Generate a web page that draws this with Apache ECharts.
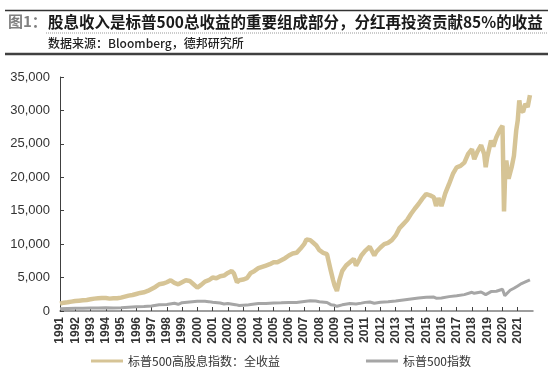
<!DOCTYPE html>
<html>
<head>
<meta charset="utf-8">
<script src="https://cdn.jsdelivr.net/npm/echarts@6/dist/echarts.min.js"></script>
<style>
  html, body { margin: 0; padding: 0; background: #fff; }
  #main { width: 550px; height: 377px; }
</style>
</head>
<body>
<div id="main"></div>
<script>
// 标普500高股息指数：全收益
const divTime = [
  1991.0, 1991.25, 1991.5, 1991.75, 1992.0, 1992.25, 1992.5, 1992.75,
  1993.0, 1993.25, 1993.5, 1993.75, 1994.0, 1994.25, 1994.5, 1994.75,
  1995.0, 1995.25, 1995.5, 1995.75, 1996.0, 1996.25, 1996.5, 1996.75,
  1997.0, 1997.25, 1997.5, 1997.75, 1998.0, 1998.25, 1998.5, 1998.75,
  1999.0, 1999.25, 1999.5, 1999.75, 2000.0, 2000.25, 2000.5, 2000.75,
  2001.0, 2001.25, 2001.5, 2001.75, 2002.0, 2002.25, 2002.4, 2002.6, 2002.75,
  2003.0, 2003.25, 2003.5, 2003.75, 2004.0, 2004.25, 2004.5, 2004.75,
  2005.0, 2005.25, 2005.5, 2005.75, 2006.0, 2006.25, 2006.5, 2006.75,
  2007.0, 2007.15, 2007.4, 2007.6, 2007.8, 2008.0, 2008.25, 2008.5, 2008.75, 2008.9,
  2009.0, 2009.15, 2009.3, 2009.5, 2009.75, 2010.0, 2010.25, 2010.4, 2010.6, 2010.75,
  2011.0, 2011.3, 2011.6, 2011.75, 2012.0, 2012.25, 2012.5, 2012.75,
  2013.0, 2013.25, 2013.5, 2013.75, 2014.0, 2014.25, 2014.5, 2014.75,
  2015.0, 2015.25, 2015.5, 2015.65, 2015.8, 2016.0, 2016.25, 2016.5, 2016.75,
  2017.0, 2017.25, 2017.5, 2017.75, 2018.0, 2018.15, 2018.35, 2018.6, 2018.8, 2018.9,
  2019.0, 2019.25, 2019.4, 2019.6, 2019.85, 2020.0, 2020.1, 2020.18, 2020.25, 2020.4,
  2020.6, 2020.75, 2020.9, 2021.0, 2021.1, 2021.2, 2021.35, 2021.5, 2021.65, 2021.8
]
const divValue = [
  1100, 1250, 1300, 1400, 1500, 1550, 1600, 1650,
  1750, 1850, 1900, 1950, 1950, 1850, 1900, 1900,
  2000, 2150, 2300, 2400, 2550, 2700, 2800, 3000,
  3300, 3600, 4000, 4100, 4300, 4600, 4200, 4000,
  4300, 4600, 4500, 4000, 3500, 3900, 4400, 4600,
  5000, 4900, 5200, 5300, 5700, 6000, 5600, 4300, 4600,
  4700, 4900, 5700, 6000, 6400, 6600, 6800, 7000,
  7300, 7300, 7600, 7900, 8300, 8600, 8700, 9300,
  10000, 10700, 10600, 10200, 9800, 9100, 8700, 8500, 6000, 4600,
  3800, 3000, 4500, 6000, 6800, 7300, 7800, 6800, 7600, 8300,
  9000, 9600, 8300, 8900, 9500, 10000, 10200, 10600,
  11300, 12400, 13000, 13600, 14500, 15300, 16000, 16800,
  17500, 17300, 17000, 15700, 16900, 15700, 17600, 19000, 20500,
  21500, 21700, 22200, 23500, 24200, 22700, 23800, 24800, 23500, 21500,
  23000, 25500, 24600, 26000, 27200, 27700, 14900, 21000, 22500, 19800,
  21500, 23200, 27000, 28500, 31500, 30000, 29800, 31000, 30500, 32300
]

// 标普500指数
const spxTime = [
  1991.0, 1991.5, 1992.0, 1992.5, 1993.0, 1993.5, 1994.0, 1994.5,
  1995.0, 1995.5, 1996.0, 1996.5, 1997.0, 1997.5, 1998.0, 1998.5, 1998.75,
  1999.0, 1999.5, 2000.0, 2000.5, 2000.75, 2001.0, 2001.5, 2001.75,
  2002.0, 2002.5, 2002.75, 2003.0, 2003.25, 2003.5, 2004.0, 2004.5,
  2005.0, 2005.5, 2006.0, 2006.5, 2007.0, 2007.4, 2007.75, 2008.0, 2008.5, 2008.75,
  2009.0, 2009.15, 2009.5, 2010.0, 2010.4, 2010.75, 2011.0, 2011.3, 2011.6,
  2012.0, 2012.5, 2013.0, 2013.5, 2014.0, 2014.5, 2015.0, 2015.5, 2015.65,
  2016.0, 2016.5, 2017.0, 2017.5, 2018.0, 2018.15, 2018.6, 2018.9,
  2019.25, 2019.6, 2020.0, 2020.15, 2020.5, 2020.75, 2021.0, 2021.25, 2021.5, 2021.8
]
const spxValue = [
  330, 380, 410, 420, 440, 450, 470, 450,
  470, 550, 620, 670, 760, 920, 980, 1150, 1000,
  1250, 1350, 1450, 1450, 1400, 1300, 1200, 1050,
  1130, 950, 820, 850, 880, 980, 1130, 1120,
  1190, 1220, 1280, 1280, 1420, 1520, 1500, 1380, 1280, 950,
  850, 700, 920, 1110, 1050, 1180, 1290, 1340, 1150,
  1300, 1380, 1480, 1650, 1800, 1950, 2050, 2080, 1920,
  1950, 2150, 2280, 2450, 2800, 2650, 2850, 2450,
  2900, 2950, 3250, 2300, 3100, 3400, 3750, 4100, 4350, 4650
]

const yearTicks = []
for (let y = 1991; y <= 2021; y++) yearTicks.push(y)

const zip = (xs, ys) => xs.map((x, i) => [x, ys[i]])

const chart = echarts.init(document.getElementById('main'))

const option = {
  animation: false,
  textStyle: { fontFamily: 'Arial, "Liberation Sans", "Noto Sans CJK SC", sans-serif' },
  grid: { left: 60, right: 17, top: 77, bottom: 66 },
  graphic: [
    { type: 'line', shape: { x1: 5, y1: 10.5, x2: 548, y2: 10.5 }, style: { stroke: '#333', lineWidth: 1.5 } },
    { type: 'text', left: 8, top: 14, style: { text: '图1：', fill: '#808080', font: 'bold 15px "Noto Sans CJK SC"' } },
    { type: 'text', left: 48, top: 14, style: { text: '股息收入是标普500总收益的重要组成部分，分红再投资贡献85%的收益', fill: '#1a1a1a', font: 'bold 15.5px "Noto Sans CJK SC"' } },
    { type: 'line', shape: { x1: 46, y1: 33, x2: 548, y2: 33 }, style: { stroke: '#999', lineWidth: 1, lineDash: [1, 1] } },
    { type: 'text', left: 48, top: 37, style: { text: '数据来源：Bloomberg，德邦研究所', fill: '#222', font: '500 12px "Noto Sans CJK SC"' } },
    { type: 'line', shape: { x1: 5, y1: 54, x2: 548, y2: 54 }, style: { stroke: '#404040', lineWidth: 2.5 } }
  ],
  legend: {
    bottom: 5,
    left: 86,
    itemGap: 86,
    icon: 'rect',
    itemWidth: 32,
    itemHeight: 3,
    textStyle: { fontSize: 12, color: '#333', fontFamily: '"Noto Sans CJK SC"' },
    data: ['标普500高股息指数：全收益', '标普500指数']
  },
  xAxis: {
    type: 'value',
    min: 1991,
    max: 2022,
    interval: 1,
    splitLine: { show: false },
    axisLine: { lineStyle: { color: '#7f7f7f', width: 1.5 } },
    axisTick: { inside: true, length: 4, customValues: yearTicks, lineStyle: { color: '#404040' } },
    axisLabel: {
      rotate: 90,
      margin: 6,
      fontSize: 12,
      fontWeight: 'bold',
      color: '#333',
      customValues: yearTicks,
      formatter: v => String(v)
    }
  },
  yAxis: {
    type: 'value',
    min: 0,
    max: 35000,
    interval: 5000,
    splitLine: { show: false },
    axisLine: { show: true, lineStyle: { color: '#404040' } },
    axisTick: { show: true, inside: true, length: 4, lineStyle: { color: '#404040' } },
    axisLabel: { fontSize: 13, color: '#333', margin: 10 }
  },
  series: [
    {
      name: '标普500高股息指数：全收益',
      type: 'line',
      symbol: 'none',
      lineStyle: { color: '#D6C496', width: 4.5 },
      itemStyle: { color: '#D6C496' },
      data: zip(divTime, divValue)
    },
    {
      name: '标普500指数',
      type: 'line',
      symbol: 'none',
      lineStyle: { color: '#A6A6A6', width: 3 },
      itemStyle: { color: '#A6A6A6' },
      data: zip(spxTime, spxValue)
    }
  ]
}

chart.setOption(option)
</script>
</body>
</html>
